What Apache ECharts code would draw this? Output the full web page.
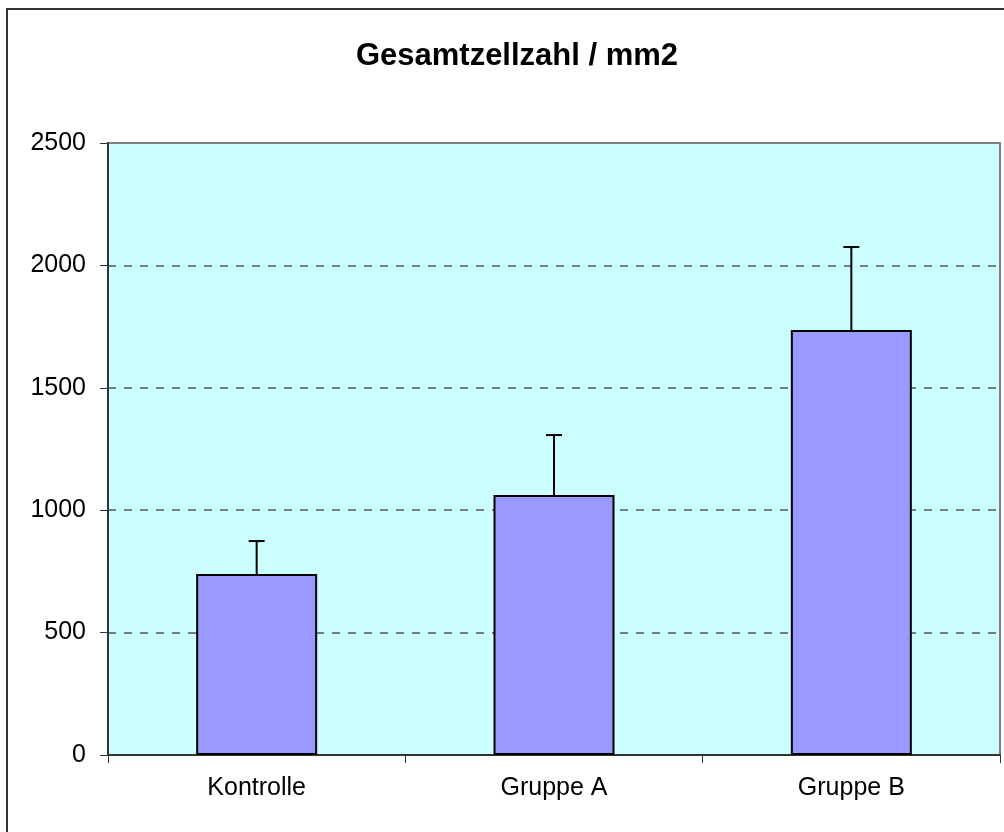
<!DOCTYPE html>
<html>
<head>
<meta charset="utf-8">
<script src="https://cdn.jsdelivr.net/npm/echarts@6/dist/echarts.min.js"></script>
<style>
  html, body { margin: 0; padding: 0; background: #fff; }
  #chart { width: 1004px; height: 832px; }
</style>
</head>
<body>
<div id="chart"></div>
<script>
// Daten
var categories = ['Kontrolle', 'Gruppe A', 'Gruppe B'];
var means = [739, 1062, 1736];
var errors = [135, 245, 339];
var yTicks = [0, 500, 1000, 1500, 2000, 2500];

var font = 'Arial, "Liberation Sans", sans-serif';

var chart = echarts.init(document.getElementById('chart'));

var errData = categories.map(function (c, i) {
  return [i, means[i], means[i] + errors[i]];
});

chart.setOption({
  animation: false,
  title: {
    text: 'Gesamtzellzahl / mm2',
    left: 512,
    top: 36,
    textAlign: 'center',
    textStyle: { fontFamily: font, fontSize: 31, fontWeight: 'bold', color: '#000' }
  },
  graphic: [{
    type: 'rect',
    shape: { x: 7, y: 9, width: 1020, height: 850 },
    style: { fill: 'none', stroke: '#333', lineWidth: 2 },
    z: 100
  }],
  grid: {
    left: 108,
    right: 4,
    top: 143,
    bottom: 77,
    show: true,
    backgroundColor: '#CCFFFF',
    borderColor: '#808080',
    borderWidth: 2
  },
  xAxis: {
    type: 'category',
    data: categories,
    axisLine: { lineStyle: { color: '#333', width: 2 } },
    axisTick: { show: true, length: 8, alignWithLabel: false, lineStyle: { color: '#333', width: 1 } },
    axisLabel: { fontFamily: font, fontSize: 25, color: '#000', margin: 21 }
  },
  yAxis: {
    type: 'value',
    min: yTicks[0],
    max: yTicks[yTicks.length - 1],
    interval: 500,
    axisLine: { show: true, lineStyle: { color: '#333', width: 2 } },
    axisTick: { show: true, length: 8, lineStyle: { color: '#333', width: 1 } },
    axisLabel: {
      fontFamily: font, fontSize: 25, color: '#000', margin: 22,
      formatter: function (v) { return String(v); }
    },
    splitLine: {
      show: true,
      showMinLine: false,
      showMaxLine: false,
      lineStyle: { color: '#6f8080', width: 2, type: [8, 8] }
    }
  },
  series: [{
    type: 'bar',
    data: means,
    barWidth: 121,
    itemStyle: { color: '#9999FF', borderColor: '#000', borderWidth: 2 },
    z: 2
  }, {
    type: 'custom',
    data: errData,
    encode: { x: 0, y: [1, 2] },
    z: 3,
    renderItem: function (params, api) {
      var i = api.value(0);
      var p0 = api.coord([i, api.value(1)]);
      var p1 = api.coord([i, api.value(2)]);
      var half = 8;
      var st = { stroke: '#000', lineWidth: 2 };
      return {
        type: 'group',
        children: [
          { type: 'line', shape: { x1: p0[0], y1: p0[1], x2: p1[0], y2: p1[1] }, style: st },
          { type: 'line', shape: { x1: p1[0] - half, y1: p1[1], x2: p1[0] + half, y2: p1[1] }, style: st }
        ]
      };
    }
  }]
});
</script>
</body>
</html>
